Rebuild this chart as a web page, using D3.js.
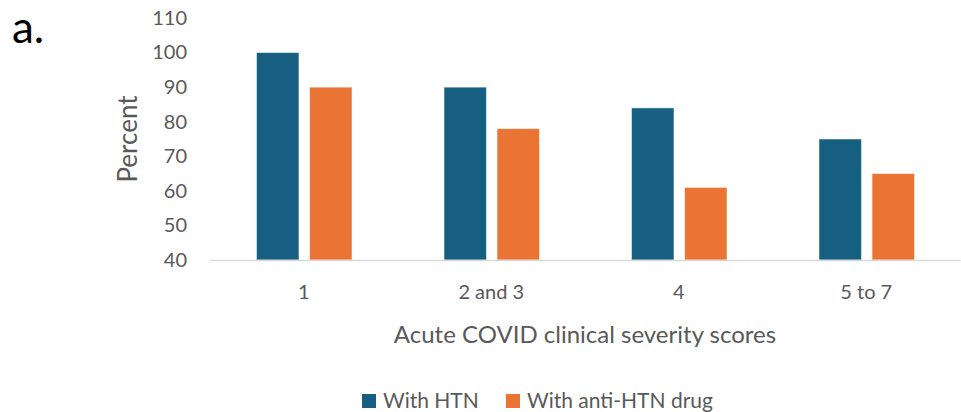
<!DOCTYPE html>
<html>
<head>
<meta charset="utf-8">
<script src="https://cdn.jsdelivr.net/npm/d3@7"></script>
<style>
  html, body { margin: 0; padding: 0; background: #fff; }
  svg { display: block; }
  text { font-family: Lato, "Open Sans", sans-serif; fill: #595959; }
</style>
</head>
<body>
<div id="chart"></div>
<script>
const categories = ["1", "2 and 3", "4", "5 to 7"];
const seriesNames = ["With HTN", "With anti-HTN drug"];
const withHTN = [100, 90, 84, 75];
const withAntiHTNDrug = [90, 78, 61, 65];
const yTicks = [40, 50, 60, 70, 80, 90, 100, 110];
const colors = ["#175F81", "#EA7434"];

const W = 961, H = 412;
const svg = d3.select("#chart").append("svg").attr("width", W).attr("height", H);

const x0 = d3.scaleBand().domain(categories).range([210, 960]).padding(0);
const x1 = d3.scaleBand().domain(seriesNames).range([46.5, 142]).paddingInner(0.2).paddingOuter(0);
const y = d3.scaleLinear().domain([40, 110]).range([260, 18]);

const data = categories.map((c, i) => ({ cat: c, vals: [withHTN[i], withAntiHTNDrug[i]] }));

// y axis labels
const yAxis = d3.axisLeft(y).tickValues(yTicks).tickSize(0).tickPadding(0);
const gy = svg.append("g").attr("transform", "translate(187,0)").call(yAxis);
gy.select(".domain").remove();
gy.selectAll("text").style("font-size", "20px").attr("fill", "#595959").style("font-family", "Lato, 'Open Sans', sans-serif");

// bars
const groups = svg.selectAll("g.grp").data(data).enter().append("g")
  .attr("class", "grp").attr("transform", d => `translate(${x0(d.cat)},0)`);
groups.selectAll("rect").data(d => d.vals.map((v, j) => ({ name: seriesNames[j], v, j })))
  .enter().append("rect")
  .attr("x", d => x1(d.name))
  .attr("width", x1.bandwidth())
  .attr("y", d => y(d.v))
  .attr("height", d => y(40) - y(d.v))
  .attr("fill", d => colors[d.j])
  .attr("stroke", "#ffffff")
  .attr("stroke-opacity", 0.5)
  .attr("stroke-width", 1);

// x axis
const xAxis = d3.axisBottom(x0).tickSize(0).tickPadding(0);
const gx = svg.append("g").attr("transform", `translate(0,${y(40)})`).call(xAxis);
gx.select(".domain").attr("stroke", "#d9d9d9").attr("stroke-width", 1.5);
gx.selectAll("text").attr("dy", null).attr("y", 39).style("font-size", "20px")
  .attr("fill", "#595959").style("font-family", "Lato, 'Open Sans', sans-serif");

// axis titles
svg.append("text").attr("transform", "translate(137,139) rotate(-90)")
  .attr("text-anchor", "middle").style("font-size", "26px").text("Percent");
svg.append("text").attr("x", 585).attr("y", 343).attr("text-anchor", "middle")
  .style("font-size", "24px").text("Acute COVID clinical severity scores");

// panel label
svg.append("text").attr("x", 12).attr("y", 43).style("font-size", "44px")
  .style("fill", "#000").text("a.");

// legend
const legendX = [362, 506];
const lg = svg.selectAll("g.leg").data(seriesNames).enter().append("g")
  .attr("class", "leg").attr("transform", (d, i) => `translate(${legendX[i]},394)`);
lg.append("rect").attr("width", 14).attr("height", 14).attr("fill", (d, i) => colors[i]);
lg.append("text").attr("x", 21).attr("y", 14).style("font-size", "21px").text(d => d);
</script>
</body>
</html>
